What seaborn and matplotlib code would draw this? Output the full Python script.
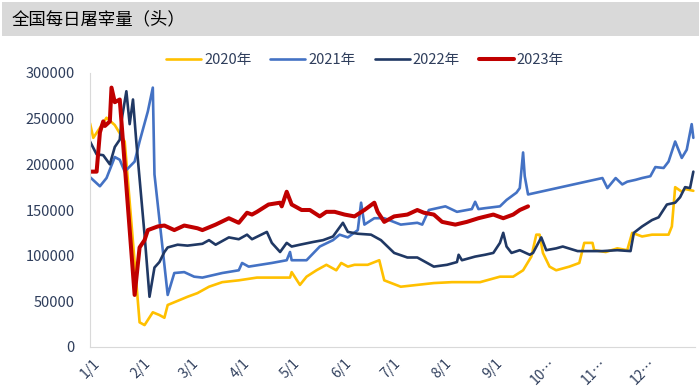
import matplotlib
matplotlib.use("Agg")
import matplotlib.pyplot as plt
import matplotlib.patches as mpatches
import pandas as pd
import seaborn as sns

sns.set_style("white")
plt.rcParams['font.family'] = ['Noto Sans CJK SC', 'DejaVu Sans']

# Data (day of year, head count)
days_2020 = [0, 2, 6, 10, 15, 21, 30, 33, 38, 42, 45, 47, 59, 65, 72, 80, 90, 101, 110, 121,
             122, 127, 131, 137, 143, 149, 152, 156, 160, 168, 175, 178, 188, 198, 208, 219,
             228, 236, 248, 256, 262, 267, 270, 272, 274, 278, 282, 290, 296, 299, 304, 305,
             312, 319, 325, 328, 334, 340, 350, 352, 354, 358, 360, 365]
vals_2020 = [245000, 229000, 240000, 251000, 243000, 225000, 27000, 24000, 38000, 35000, 32000,
             46000, 55000, 59000, 66000, 71000, 73000, 76000, 76000, 76000, 82000, 68000, 77000,
             84000, 90000, 84000, 92000, 88000, 90000, 90000, 95000, 73000, 66000, 68000, 70000,
             71000, 71000, 71000, 77000, 77000, 84000, 99000, 123000, 123000, 103000, 88000,
             84000, 88000, 92000, 114000, 114000, 106000, 104000, 108000, 106000, 125000,
             121000, 123000, 123000, 132000, 175000, 170000, 173000, 171000]

days_2021 = [0, 6, 10, 15, 18, 21, 27, 30, 35, 38, 39, 47, 51, 57, 63, 68, 80, 90, 92, 96,
             110, 119, 121, 122, 131, 139, 147, 151, 156, 162, 164, 166, 172, 178, 188, 198,
             201, 205, 215, 222, 231, 233, 235, 239, 248, 252, 258, 260, 262, 263, 265, 310,
             313, 318, 322, 325, 330, 334, 339, 342, 347, 350, 354, 358, 361, 364, 365]
vals_2021 = [186000, 176000, 185000, 208000, 205000, 192000, 203000, 225000, 258000, 284000,
             189000, 57000, 81000, 82000, 77000, 76000, 81000, 84000, 92000, 88000, 92000,
             95000, 104000, 95000, 95000, 110000, 117000, 123000, 120000, 128000, 158000,
             134000, 141000, 141000, 134000, 136000, 134000, 150000, 154000, 148000, 151000,
             159000, 151000, 152000, 154000, 161000, 169000, 174000, 213000, 187000, 167000,
             185000, 174000, 185000, 178000, 181000, 183000, 185000, 187000, 197000, 196000,
             203000, 225000, 207000, 216000, 244000, 229000]

days_2022 = [0, 4, 8, 12, 15, 18, 19, 22, 24, 26, 28, 33, 36, 39, 42, 45, 47, 53, 59, 68, 72,
             76, 84, 90, 95, 98, 107, 110, 115, 119, 122, 127, 135, 141, 147, 151, 153, 156,
             162, 170, 176, 184, 192, 198, 208, 216, 222, 223, 225, 233, 239, 244, 248, 250,
             252, 255, 260, 266, 268, 273, 276, 282, 286, 295, 310, 319, 327, 329, 334, 340,
             344, 349, 354, 357, 360, 363, 365]
vals_2022 = [225000, 211000, 210000, 200000, 219000, 227000, 247000, 280000, 244000, 271000,
             225000, 123000, 55000, 87000, 93000, 104000, 109000, 112000, 111000, 113000,
             117000, 112000, 120000, 118000, 123000, 118000, 126000, 114000, 104000, 114000,
             110000, 112000, 115000, 117000, 121000, 131000, 136000, 126000, 124000, 123000,
             117000, 103000, 98000, 98000, 88000, 90000, 93000, 101000, 95000, 99000, 101000,
             103000, 114000, 125000, 110000, 103000, 106000, 101000, 103000, 120000, 106000,
             108000, 110000, 105000, 105000, 106000, 105000, 125000, 132000, 139000, 142000,
             156000, 158000, 164000, 175000, 174000, 192000]

days_2023 = [0, 4, 6, 8, 9, 12, 13, 15, 18, 21, 27, 30, 33, 35, 41, 45, 51, 57, 65, 68, 76,
             84, 90, 95, 98, 101, 108, 115, 116, 119, 122, 128, 133, 139, 143, 148, 154, 160,
             166, 172, 174, 178, 184, 192, 198, 202, 208, 213, 221, 228, 235, 244, 250, 256,
             260, 265]
vals_2023 = [192000, 192000, 235000, 247000, 242000, 247000, 284000, 268000, 271000, 200000,
             57000, 109000, 117000, 128000, 132000, 133000, 128000, 133000, 130000, 128000,
             134000, 141000, 136000, 147000, 145000, 148000, 156000, 158000, 154000, 170000,
             156000, 150000, 150000, 143000, 148000, 148000, 145000, 143000, 150000, 158000,
             148000, 137000, 143000, 145000, 150000, 147000, 145000, 137000, 134000, 137000,
             141000, 145000, 141000, 145000, 150000, 154000]

month_starts = [0, 31, 60, 91, 121, 152, 182, 213, 244, 274, 305, 335, 366]
month_labels = ["1/1", "2/1", "3/1", "4/1", "5/1", "6/1", "7/1", "8/1", "9/1",
                "10…", "11…", "12…", ""]
y_ticks = [0, 50000, 100000, 150000, 200000, 250000, 300000]

series = [
    ("2020年", days_2020, vals_2020, "#FFC000", 1.9),
    ("2021年", days_2021, vals_2021, "#4472C4", 1.9),
    ("2022年", days_2022, vals_2022, "#203864", 1.9),
    ("2023年", days_2023, vals_2023, "#C00000", 2.9),
]

fig = plt.figure(figsize=(6.99, 3.87), dpi=100)
ax = fig.add_axes([90 / 699, 1 - 347 / 387, 605 / 699, 274 / 387])

for name, d, v, c, lw in series:
    df = pd.DataFrame({"day": d, "value": v})
    sns.lineplot(data=df, x="day", y="value", ax=ax, color=c, linewidth=lw,
                 label=name, sort=False)

txt = "#2F3E5C"
ax.set_xlim(0, 366)
ax.set_ylim(0, 300000)
ax.set_xticks(month_starts)
ax.set_xticklabels(month_labels, rotation=45, fontsize=10, color=txt)
ax.set_yticks(y_ticks)
ax.set_yticklabels([str(t) for t in y_ticks], fontsize=10.5, color=txt)
ax.set_xlabel("")
ax.set_ylabel("")
for s in ["top", "right"]:
    ax.spines[s].set_visible(False)
for s in ["left", "bottom"]:
    ax.spines[s].set_color("#D9D9D9")
    ax.spines[s].set_linewidth(0.8)
ax.tick_params(axis="both", which="both", direction="out", length=4, width=0.8,
               color="#D9D9D9", pad=3)
ax.tick_params(axis="y", pad=7)

ax.legend(loc="center", bbox_to_anchor=(365 / 699, 1 - 60 / 387),
          bbox_transform=fig.transFigure, ncol=4, frameon=False, fontsize=10.5,
          handlelength=2.4, handletextpad=0.2, columnspacing=1.3, labelcolor=txt)

# title banner
fig.patches.append(mpatches.Rectangle((2 / 699, 1 - 36 / 387), 697 / 699, 34 / 387,
                                      transform=fig.transFigure, facecolor="#D9D9D9",
                                      edgecolor="none", zorder=0))
fig.text(12 / 699, 1 - 19 / 387, "全国每日屠宰量（头）", fontsize=12.5, va="center",
         ha="left", color="#000000")

plt.savefig("out.png", dpi=100)
